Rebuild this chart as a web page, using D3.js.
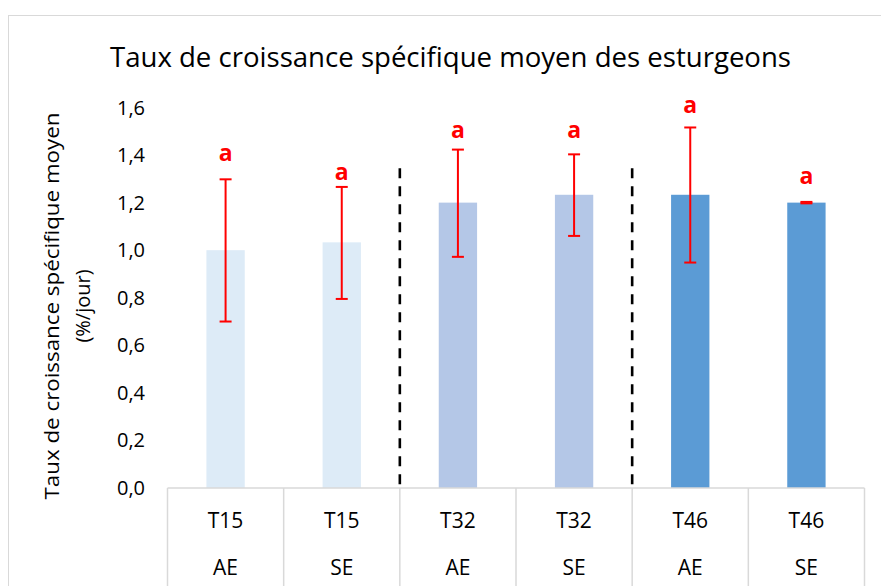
<!DOCTYPE html>
<html>
<head>
<meta charset="utf-8">
<script src="https://cdn.jsdelivr.net/npm/d3@7"></script>
<style>
  body { margin: 0; background: #fff; }
  svg { display: block; font-family: "Open Sans", sans-serif; }
</style>
</head>
<body>
<div id="chart"></div>
<script>
// data
const categories = ["T15 AE", "T15 SE", "T32 AE", "T32 SE", "T46 AE", "T46 SE"];
const temps = ["T15", "T15", "T32", "T32", "T46", "T46"];
const groups = ["AE", "SE", "AE", "SE", "AE", "SE"];
const means = [1.00, 1.033, 1.20, 1.233, 1.233, 1.20];
const errLow = [0.70, 0.795, 0.972, 1.06, 0.948, 1.197];
const errHigh = [1.298, 1.266, 1.423, 1.403, 1.516, 1.203];
const letters = ["a", "a", "a", "a", "a", "a"];
const letterAt = [1.375, 1.294, 1.471, 1.471, 1.578, 1.278];
const yTicks = [0, 0.2, 0.4, 0.6, 0.8, 1.0, 1.2, 1.4, 1.6];
const dividerAfter = [1, 3];

const width = 881, height = 586;
const colors = { T15: "#DDEBF7", T32: "#B4C7E7", T46: "#5B9BD5" };

const svg = d3.select("#chart").append("svg")
  .attr("width", width)
  .attr("height", height);

// chart frame
svg.append("rect")
  .attr("x", 8.5).attr("y", 15.5)
  .attr("width", 900).attr("height", 600)
  .attr("fill", "#fff")
  .attr("stroke", "#d9d9d9");

const x = d3.scaleBand()
  .domain(categories)
  .range([167.5, 864.5]);

const y = d3.scaleLinear()
  .domain([0, 1.6])
  .range([488, 107.5]);

const barW = x.bandwidth() * 0.33;

// title
svg.append("text")
  .attr("x", 110).attr("y", 67)
  .attr("textLength", 681)
  .attr("lengthAdjust", "spacingAndGlyphs")
  .style("font-size", "27px")
  .attr("fill", "#000")
  .text("Taux de croissance spécifique moyen des esturgeons");

// y tick labels
svg.append("g").selectAll("text")
  .data(yTicks)
  .enter().append("text")
  .attr("x", 145)
  .attr("y", d => y(d))
  .attr("dy", "0.35em")
  .attr("text-anchor", "end")
  .style("font-size", "20px")
  .attr("fill", "#000")
  .text(d => d3.format(".1f")(d).replace(".", ","));

// y axis title
const yt = svg.append("text")
  .attr("transform", "translate(52,306) rotate(-90)")
  .attr("text-anchor", "middle")
  .style("font-size", "20px")
  .attr("fill", "#000");
yt.append("tspan")
  .attr("x", 0).attr("y", 7)
  .attr("textLength", 387)
  .attr("lengthAdjust", "spacingAndGlyphs")
  .text("Taux de croissance spécifique moyen");
yt.append("tspan")
  .attr("x", 0).attr("y", 38)
  .text("(%/jour)");

// bars
svg.append("g").selectAll("rect")
  .data(categories)
  .enter().append("rect")
  .attr("x", d => x(d) + (x.bandwidth() - barW) / 2)
  .attr("y", (d, i) => y(means[i]))
  .attr("width", barW)
  .attr("height", (d, i) => y(0) - y(means[i]))
  .attr("fill", (d, i) => colors[temps[i]]);

// category axis
const axis = svg.append("g").attr("stroke", "#d9d9d9").attr("stroke-width", 1.5);
axis.append("line")
  .attr("x1", x.range()[0]).attr("x2", x.range()[1])
  .attr("y1", y(0)).attr("y2", y(0));
axis.selectAll(".sep")
  .data(categories.concat(["end"]))
  .enter().append("line")
  .attr("x1", (d, i) => x.range()[0] + i * x.bandwidth())
  .attr("x2", (d, i) => x.range()[0] + i * x.bandwidth())
  .attr("y1", y(0)).attr("y2", height);

svg.append("g").selectAll("text")
  .data(categories)
  .enter().append("text")
  .attr("x", d => x(d) + x.bandwidth() / 2)
  .attr("y", 528)
  .attr("text-anchor", "middle")
  .style("font-size", "21px")
  .attr("fill", "#000")
  .text((d, i) => temps[i]);

svg.append("g").selectAll("text")
  .data(categories)
  .enter().append("text")
  .attr("x", d => x(d) + x.bandwidth() / 2)
  .attr("y", 575)
  .attr("text-anchor", "middle")
  .style("font-size", "21px")
  .attr("fill", "#000")
  .text((d, i) => groups[i]);

// group dividers
svg.append("g").selectAll("line")
  .data(dividerAfter)
  .enter().append("line")
  .attr("x1", i => x(categories[i]) + x.bandwidth())
  .attr("x2", i => x(categories[i]) + x.bandwidth())
  .attr("y1", y(1.345)).attr("y2", y(0) + 2)
  .attr("stroke", "#000")
  .attr("stroke-width", 2.6)
  .attr("stroke-dasharray", "10,8");

// error bars
const eb = svg.append("g").attr("stroke", "#FF0000").attr("stroke-width", 2);
categories.forEach((c, i) => {
  const cx = x(c) + x.bandwidth() / 2;
  eb.append("line").attr("x1", cx).attr("x2", cx)
    .attr("y1", y(errLow[i])).attr("y2", y(errHigh[i]));
  eb.append("line").attr("x1", cx - 6).attr("x2", cx + 6)
    .attr("y1", y(errLow[i])).attr("y2", y(errLow[i]));
  eb.append("line").attr("x1", cx - 6).attr("x2", cx + 6)
    .attr("y1", y(errHigh[i])).attr("y2", y(errHigh[i]));
});

// significance letters
svg.append("g").selectAll("text")
  .data(categories)
  .enter().append("text")
  .attr("x", d => x(d) + x.bandwidth() / 2)
  .attr("y", (d, i) => y(letterAt[i]))
  .attr("text-anchor", "middle")
  .style("font-size", "23px")
  .style("font-weight", "bold")
  .attr("fill", "#FF0000")
  .text((d, i) => letters[i]);
</script>
</body>
</html>
